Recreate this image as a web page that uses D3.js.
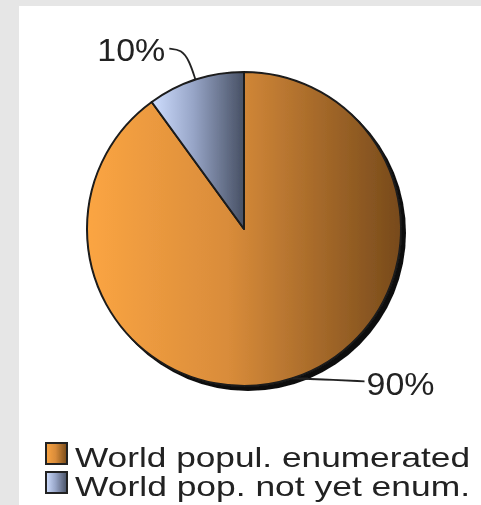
<!DOCTYPE html>
<html>
<head>
  <meta charset="UTF-8" />
  <title>World population enumerated - pie</title>
  <script src="https://d3js.org/d3.v7.min.js"></script>
  <style>
    body { margin: 0; background: #e6e6e6; }
    text { font-family: "Liberation Sans", Arial, sans-serif; fill: #222; }
  </style>
</head>
<body>
  <svg id="chart" width="481" height="505"></svg>
  <script>
    // data
    const categories = ["World popul. enumerated", "World pop. not yet enum."];
    const values = [90, 10];
    const pctLabels = ["90%", "10%"];

    const width = 481, height = 505;
    const cx = 244, cy = 229, radius = 157;

    const svg = d3.select("#chart");
    const defs = svg.append("defs");

    // horizontal shading per slice
    const grads = [
      { id: "gOrange", stops: [["0%", "#fba543"], ["45%", "#d98c3a"], ["100%", "#774a1b"]] },
      { id: "gBlue", stops: [["0%", "#cfdeff"], ["45%", "#97a5c7"], ["100%", "#475064"]] }
    ];
    grads.forEach(g => {
      const lg = defs.append("linearGradient").attr("id", g.id)
        .attr("x1", "0%").attr("x2", "100%").attr("y1", "0%").attr("y2", "0%");
      g.stops.forEach(s => lg.append("stop").attr("offset", s[0]).attr("stop-color", s[1]));
    });
    defs.append("filter").attr("id", "soft")
      .append("feGaussianBlur").attr("stdDeviation", 0.55);

    // panel
    svg.append("rect").attr("x", 19).attr("y", 6)
      .attr("width", width - 19).attr("height", height - 6).attr("fill", "#ffffff");

    const g = svg.append("g").attr("filter", "url(#soft)");
    const pieG = g.append("g").attr("transform", `translate(${cx},${cy})`);

    const pie = d3.pie().sort(null).value(d => d)
      .startAngle(0).endAngle(2 * Math.PI);
    const arcs = pie(values);
    const arc = d3.arc().innerRadius(0).outerRadius(radius);

    // drop shadow
    pieG.append("circle").attr("cx", 4).attr("cy", 4).attr("r", radius + 1)
      .attr("fill", "#111");

    pieG.selectAll("path.slice")
      .data(arcs)
      .join("path")
      .attr("class", "slice")
      .attr("d", arc)
      .attr("fill", (d, i) => `url(#${grads[i].id})`)
      .attr("stroke", "#1a1a1a")
      .attr("stroke-width", 2)
      .attr("stroke-linejoin", "round");

    // labels with leader lines
    const pt = (a, r) => [Math.sin(a) * r, -Math.cos(a) * r];
    arcs.forEach((d, i) => {
      const mid = (d.startAngle + d.endAngle) / 2;
      const p0 = pt(mid, radius);
      let pts, tx, ty, anchor;
      if (Math.sin(mid) < 0) {
        const p1 = pt(mid, radius + 20);
        const p2 = [p1[0] - 8, p1[1] - 11];
        const p3 = [p2[0] - 12, p2[1] - 1];
        pts = [p0, p1, p2, p3];
        tx = p3[0] - 4; ty = p3[1] + 12; anchor = "end";
      } else {
        const p1 = [p0[0] + 28, p0[1] + 1];
        const p2 = [p0[0] + 72, p0[1] + 3];
        pts = [p0, p1, p2];
        tx = p2[0] + 2; ty = p2[1] + 14; anchor = "start";
      }
      pieG.append("path")
        .attr("d", d3.line().curve(d3.curveBasis)(pts))
        .attr("fill", "none").attr("stroke", "#222").attr("stroke-width", 1.8);
      pieG.append("text")
        .attr("x", tx).attr("y", ty)
        .attr("text-anchor", anchor)
        .attr("font-size", 32)
        .attr("textLength", 68)
        .attr("lengthAdjust", "spacingAndGlyphs")
        .text(pctLabels[i]);
    });

    // legend
    const legend = g.append("g").attr("transform", "translate(45,443)");
    const rows = legend.selectAll("g.row").data(categories).join("g")
      .attr("class", "row")
      .attr("transform", (d, i) => `translate(0,${i * 29})`);
    rows.append("rect")
      .attr("x", 1).attr("y", 0).attr("width", 21).attr("height", 21)
      .attr("fill", (d, i) => `url(#${grads[i].id})`)
      .attr("stroke", "#222").attr("stroke-width", 2);
    rows.append("text")
      .attr("x", 30).attr("y", 24)
      .attr("font-size", 28)
      .attr("textLength", 395)
      .attr("lengthAdjust", "spacingAndGlyphs")
      .text(d => d);
  </script>
</body>
</html>
